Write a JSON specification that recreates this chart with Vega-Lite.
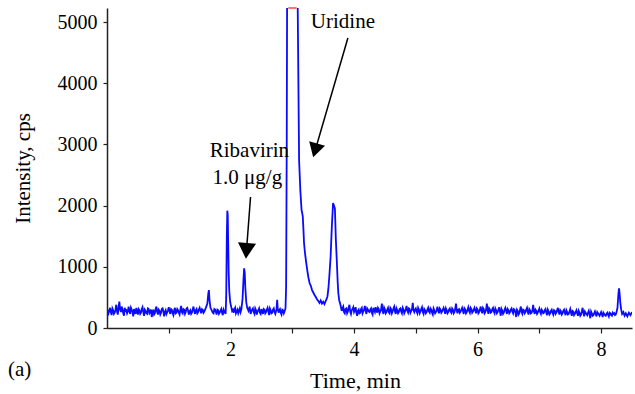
{
"$schema":"https://vega.github.io/schema/vega-lite/v6.json",
"width":525,"height":320,"autosize":"none",
"padding":{"left":107,"top":8,"right":3,"bottom":66},
"config":{"view":{"stroke":null},"font":"Liberation Serif"},
"title":{"text":"(a)","orient":"bottom","anchor":"start","frame":"group","fontSize":21,"font":"Liberation Serif","fontWeight":"normal","color":"black","dx":-99,"offset":-15,"baseline":"alphabetic"},
"datasets":{
"trace":[
{"t":0.01,"i":300},{"t":0.025,"i":240},{"t":0.05,"i":330},{"t":0.075,"i":210},{"t":0.1,"i":290},{"t":0.125,"i":250},{"t":0.15,"i":380},{"t":0.175,"i":220},{"t":0.2,"i":430},{"t":0.225,"i":260},{"t":0.25,"i":310},{"t":0.275,"i":200},{"t":0.3,"i":280},{"t":0.325,"i":240},{"t":0.35,"i":350},{"t":0.375,"i":230},{"t":0.4,"i":300},{"t":0.425,"i":190},{"t":0.45,"i":270},{"t":0.475,"i":330},{"t":0.5,"i":220},{"t":0.525,"i":290},{"t":0.55,"i":250},{"t":0.575,"i":340},{"t":0.6,"i":200},{"t":0.625,"i":280},{"t":0.65,"i":230},{"t":0.675,"i":310},{"t":0.7,"i":260},{"t":0.725,"i":180},{"t":0.75,"i":300},{"t":0.775,"i":240},{"t":0.8,"i":350},{"t":0.825,"i":220},{"t":0.85,"i":280},{"t":0.875,"i":250},{"t":0.9,"i":320},{"t":0.925,"i":190},{"t":0.95,"i":290},{"t":0.975,"i":260},{"t":1.0,"i":340},{"t":1.025,"i":230},{"t":1.05,"i":300},{"t":1.075,"i":210},{"t":1.1,"i":330},{"t":1.125,"i":250},{"t":1.15,"i":290},{"t":1.175,"i":220},{"t":1.2,"i":360},{"t":1.225,"i":240},{"t":1.25,"i":300},{"t":1.275,"i":260},{"t":1.3,"i":330},{"t":1.325,"i":220},{"t":1.35,"i":290},{"t":1.375,"i":250},{"t":1.4,"i":350},{"t":1.425,"i":230},{"t":1.45,"i":310},{"t":1.475,"i":260},{"t":1.5,"i":330},{"t":1.525,"i":240},{"t":1.55,"i":300},{"t":1.575,"i":270},
{"t":1.6,"i":330},{"t":1.625,"i":400},{"t":1.64,"i":560},{"t":1.65,"i":620},{"t":1.66,"i":450},{"t":1.675,"i":330},{"t":1.7,"i":280},{"t":1.725,"i":240},{"t":1.75,"i":300},{"t":1.775,"i":220},{"t":1.8,"i":290},{"t":1.825,"i":250},{"t":1.85,"i":310},{"t":1.875,"i":210},{"t":1.9,"i":270},{"t":1.92,"i":230},{"t":1.93,"i":500},{"t":1.94,"i":1500},{"t":1.948,"i":1917},{"t":1.955,"i":1850},{"t":1.962,"i":1400},{"t":1.97,"i":900},{"t":1.98,"i":600},{"t":1.995,"i":420},{"t":2.01,"i":350},{"t":2.025,"i":280},{"t":2.05,"i":250},{"t":2.075,"i":330},{"t":2.1,"i":270},{"t":2.125,"i":240},{"t":2.15,"i":320},{"t":2.175,"i":300},{"t":2.195,"i":480},{"t":2.21,"i":800},{"t":2.22,"i":975},{"t":2.23,"i":900},{"t":2.24,"i":650},{"t":2.255,"i":420},{"t":2.27,"i":330},{"t":2.29,"i":280},{"t":2.31,"i":350},{"t":2.325,"i":230},{"t":2.35,"i":300},{"t":2.375,"i":260},{"t":2.4,"i":320},{"t":2.425,"i":220},{"t":2.45,"i":290},{"t":2.475,"i":250},{"t":2.5,"i":310},{"t":2.525,"i":230},{"t":2.55,"i":300},{"t":2.575,"i":260},{"t":2.6,"i":330},{"t":2.625,"i":210},{"t":2.65,"i":290},{"t":2.675,"i":250},{"t":2.7,"i":320},{"t":2.725,"i":230},{"t":2.745,"i":300},{"t":2.755,"i":460},{"t":2.765,"i":300},{"t":2.78,"i":250},{"t":2.8,"i":310},{"t":2.825,"i":220},{"t":2.85,"i":290},{"t":2.87,"i":260},{"t":2.89,"i":320},{"t":2.9,"i":670},{"t":2.91,"i":3000},{"t":2.92,"i":7000},{"t":2.95,"i":9000},{"t":3.0,"i":9500},{"t":3.05,"i":9000},{"t":3.07,"i":7000},{"t":3.09,"i":5000},{"t":3.11,"i":2745},{"t":3.13,"i":2250},{"t":3.15,"i":1928},{"t":3.16,"i":1880},{"t":3.17,"i":1820},{"t":3.18,"i":1620},{"t":3.19,"i":1389},{"t":3.205,"i":1230},{"t":3.22,"i":1111},{"t":3.24,"i":960},{"t":3.26,"i":830},{"t":3.28,"i":735},{"t":3.3,"i":690},{"t":3.32,"i":620},{"t":3.34,"i":580},{"t":3.36,"i":540},{"t":3.38,"i":507},{"t":3.4,"i":470},{"t":3.42,"i":440},{"t":3.44,"i":410},{"t":3.46,"i":450},{"t":3.48,"i":400},{"t":3.5,"i":430},{"t":3.52,"i":390},{"t":3.54,"i":440},{"t":3.555,"i":470},{"t":3.57,"i":520},{"t":3.585,"i":650},{"t":3.6,"i":850},{"t":3.62,"i":1160},{"t":3.64,"i":1650},{"t":3.66,"i":2042},{"t":3.675,"i":2000},{"t":3.69,"i":1950},{"t":3.705,"i":1450},{"t":3.72,"i":1111},{"t":3.735,"i":750},{"t":3.745,"i":572},{"t":3.76,"i":450},{"t":3.775,"i":400},{"t":3.79,"i":330},
{"t":3.8,"i":280},{"t":3.825,"i":350},{"t":3.85,"i":240},{"t":3.875,"i":320},{"t":3.9,"i":270},{"t":3.925,"i":380},{"t":3.95,"i":230},{"t":3.975,"i":310},{"t":4.0,"i":260},{"t":4.025,"i":340},{"t":4.05,"i":200},{"t":4.075,"i":300},{"t":4.1,"i":250},{"t":4.125,"i":330},{"t":4.15,"i":270},{"t":4.175,"i":360},{"t":4.2,"i":230},{"t":4.225,"i":300},{"t":4.25,"i":260},{"t":4.275,"i":320},{"t":4.3,"i":220},{"t":4.325,"i":290},{"t":4.35,"i":340},{"t":4.375,"i":250},{"t":4.4,"i":310},{"t":4.425,"i":270},{"t":4.45,"i":400},{"t":4.475,"i":230},{"t":4.5,"i":300},{"t":4.525,"i":260},{"t":4.55,"i":330},{"t":4.575,"i":240},{"t":4.6,"i":310},{"t":4.625,"i":270},{"t":4.65,"i":350},{"t":4.675,"i":230},{"t":4.7,"i":290},{"t":4.725,"i":260},{"t":4.75,"i":320},{"t":4.775,"i":240},{"t":4.8,"i":300},{"t":4.825,"i":270},{"t":4.85,"i":360},{"t":4.875,"i":250},{"t":4.9,"i":310},{"t":4.925,"i":280},{"t":4.95,"i":410},{"t":4.975,"i":260},{"t":5.0,"i":320},{"t":5.025,"i":240},{"t":5.05,"i":300},{"t":5.075,"i":270},{"t":5.1,"i":340},{"t":5.125,"i":230},{"t":5.15,"i":290},{"t":5.175,"i":260},{"t":5.2,"i":330},{"t":5.225,"i":250},{"t":5.25,"i":300},{"t":5.275,"i":220},{"t":5.3,"i":290},{"t":5.325,"i":260},{"t":5.35,"i":350},{"t":5.375,"i":240},{"t":5.4,"i":300},{"t":5.425,"i":270},{"t":5.45,"i":330},{"t":5.475,"i":230},{"t":5.5,"i":290},{"t":5.525,"i":260},{"t":5.55,"i":320},{"t":5.575,"i":250},{"t":5.6,"i":300},{"t":5.625,"i":260},{"t":5.65,"i":400},{"t":5.675,"i":240},{"t":5.7,"i":310},{"t":5.725,"i":270},{"t":5.75,"i":330},{"t":5.775,"i":230},{"t":5.8,"i":300},{"t":5.825,"i":260},{"t":5.85,"i":340},{"t":5.875,"i":250},{"t":5.9,"i":310},{"t":5.925,"i":270},{"t":5.95,"i":330},{"t":5.975,"i":240},{"t":6.0,"i":300},{"t":6.025,"i":260},{"t":6.05,"i":350},{"t":6.075,"i":240},{"t":6.1,"i":310},{"t":6.125,"i":260},{"t":6.15,"i":400},{"t":6.175,"i":230},{"t":6.2,"i":300},{"t":6.225,"i":260},{"t":6.25,"i":330},{"t":6.275,"i":240},{"t":6.3,"i":290},{"t":6.325,"i":260},{"t":6.35,"i":340},{"t":6.375,"i":200},{"t":6.4,"i":280},{"t":6.425,"i":250},{"t":6.45,"i":330},{"t":6.475,"i":230},{"t":6.5,"i":290},{"t":6.525,"i":260},{"t":6.55,"i":320},{"t":6.575,"i":240},{"t":6.6,"i":300},{"t":6.625,"i":180},{"t":6.65,"i":280},{"t":6.675,"i":240},{"t":6.7,"i":350},{"t":6.725,"i":230},{"t":6.75,"i":290},{"t":6.775,"i":260},{"t":6.8,"i":330},{"t":6.825,"i":220},{"t":6.85,"i":290},{"t":6.875,"i":250},{"t":6.9,"i":380},{"t":6.925,"i":230},{"t":6.95,"i":280},{"t":6.975,"i":250},{"t":7.0,"i":320},{"t":7.025,"i":230},{"t":7.05,"i":280},{"t":7.075,"i":250},{"t":7.1,"i":310},{"t":7.125,"i":210},{"t":7.15,"i":270},{"t":7.175,"i":240},{"t":7.2,"i":300},{"t":7.225,"i":220},{"t":7.25,"i":280},{"t":7.275,"i":250},{"t":7.3,"i":330},{"t":7.325,"i":220},{"t":7.35,"i":270},{"t":7.375,"i":240},{"t":7.4,"i":300},{"t":7.425,"i":210},{"t":7.45,"i":260},{"t":7.475,"i":230},{"t":7.5,"i":310},{"t":7.525,"i":200},{"t":7.55,"i":270},{"t":7.575,"i":230},{"t":7.6,"i":290},{"t":7.625,"i":200},{"t":7.65,"i":250},{"t":7.675,"i":220},{"t":7.7,"i":330},{"t":7.725,"i":190},{"t":7.75,"i":250},{"t":7.775,"i":210},{"t":7.8,"i":280},{"t":7.825,"i":160},{"t":7.85,"i":240},{"t":7.875,"i":210},{"t":7.9,"i":270},{"t":7.925,"i":190},{"t":7.95,"i":240},{"t":7.975,"i":200},{"t":8.0,"i":260},{"t":8.025,"i":180},{"t":8.05,"i":230},{"t":8.075,"i":200},{"t":8.1,"i":250},{"t":8.125,"i":190},{"t":8.15,"i":240},{"t":8.175,"i":200},{"t":8.2,"i":230},{"t":8.225,"i":210},{"t":8.25,"i":260},{"t":8.265,"i":330},{"t":8.28,"i":560},{"t":8.29,"i":649},{"t":8.3,"i":560},{"t":8.31,"i":420},{"t":8.325,"i":300},{"t":8.34,"i":230},{"t":8.36,"i":260},{"t":8.38,"i":200},{"t":8.4,"i":240},{"t":8.425,"i":190},{"t":8.45,"i":250},{"t":8.475,"i":210},{"t":8.5,"i":260},
{"t":0.0375,"i":280},{"t":0.0625,"i":260},{"t":0.0875,"i":320},{"t":0.1125,"i":230},{"t":0.1375,"i":300},{"t":0.1625,"i":270},{"t":0.1875,"i":340},{"t":0.2125,"i":300},{"t":0.2375,"i":350},{"t":0.2625,"i":240},{"t":0.2875,"i":330},{"t":0.3125,"i":290},{"t":0.3375,"i":270},{"t":0.3625,"i":280},{"t":0.3875,"i":330},{"t":0.4125,"i":260},{"t":0.4375,"i":310},{"t":0.4625,"i":230},{"t":0.4875,"i":260},{"t":0.5125,"i":310},{"t":0.5375,"i":230},{"t":0.5625,"i":310},{"t":0.5875,"i":260},{"t":0.6125,"i":300},{"t":0.6375,"i":240},{"t":0.6625,"i":320},{"t":0.6875,"i":240},{"t":0.7125,"i":300},{"t":0.7375,"i":260},{"t":0.7625,"i":220},{"t":0.7875,"i":310},{"t":0.8125,"i":260},{"t":0.8375,"i":300},{"t":0.8625,"i":220},{"t":0.8875,"i":310},{"t":0.9125,"i":270},{"t":0.9375,"i":260},{"t":0.9625,"i":230},{"t":0.9875,"i":290},{"t":1.0125,"i":270},{"t":1.0375,"i":310},{"t":1.0625,"i":240},{"t":1.0875,"i":290},{"t":1.1125,"i":240},{"t":1.1375,"i":310},{"t":1.1625,"i":250},{"t":1.1875,"i":300},{"t":1.2125,"i":260},{"t":1.2375,"i":310},{"t":1.2625,"i":230},{"t":1.2875,"i":320},{"t":1.3125,"i":280},{"t":1.3375,"i":270},{"t":1.3625,"i":230},{"t":1.3875,"i":300},{"t":1.4125,"i":280},{"t":1.4375,"i":290},{"t":1.4625,"i":240},{"t":1.4875,"i":300},{"t":1.5125,"i":280},{"t":1.5375,"i":310},{"t":1.5625,"i":250},{"t":1.5875,"i":300},
{"t":1.7125,"i":250},{"t":1.7375,"i":310},{"t":1.7625,"i":260},{"t":1.7875,"i":300},{"t":1.8125,"i":230},{"t":1.8375,"i":280},{"t":1.8625,"i":250},{"t":1.8875,"i":300},{"t":2.0375,"i":300},{"t":2.0625,"i":300},{"t":2.0875,"i":240},{"t":2.1125,"i":300},{"t":2.1375,"i":280},{"t":2.1625,"i":260},
{"t":2.3375,"i":270},{"t":2.3625,"i":320},{"t":2.3875,"i":230},{"t":2.4125,"i":290},{"t":2.4375,"i":270},{"t":2.4625,"i":320},{"t":2.4875,"i":230},{"t":2.5125,"i":270},{"t":2.5375,"i":310},{"t":2.5625,"i":240},{"t":2.5875,"i":300},{"t":2.6125,"i":270},{"t":2.6375,"i":320},{"t":2.6625,"i":240},{"t":2.6875,"i":300},{"t":2.7125,"i":260},{"t":2.7375,"i":280},{"t":2.7875,"i":290},{"t":2.8125,"i":250},{"t":2.8375,"i":300},{"t":2.8625,"i":240},
{"t":3.8125,"i":320},{"t":3.8375,"i":260},{"t":3.8625,"i":310},{"t":3.8875,"i":240},{"t":3.9125,"i":330},{"t":3.9375,"i":270},{"t":3.9625,"i":290},{"t":3.9875,"i":340},{"t":4.0125,"i":290},{"t":4.0375,"i":250},{"t":4.0625,"i":280},{"t":4.0875,"i":240},{"t":4.1125,"i":310},{"t":4.1375,"i":240},{"t":4.1625,"i":300},{"t":4.1875,"i":280},{"t":4.2125,"i":320},{"t":4.2375,"i":270},{"t":4.2625,"i":300},{"t":4.2875,"i":250},{"t":4.3125,"i":330},{"t":4.3375,"i":260},{"t":4.3625,"i":290},{"t":4.3875,"i":330},{"t":4.4125,"i":240},{"t":4.4375,"i":300},{"t":4.4625,"i":280},{"t":4.4875,"i":330},{"t":4.5125,"i":240},{"t":4.5375,"i":300},{"t":4.5625,"i":260},{"t":4.5875,"i":330},{"t":4.6125,"i":240},{"t":4.6375,"i":320},{"t":4.6625,"i":270},{"t":4.6875,"i":320},{"t":4.7125,"i":240},{"t":4.7375,"i":310},{"t":4.7625,"i":270},{"t":4.7875,"i":330},{"t":4.8125,"i":240},{"t":4.8375,"i":310},{"t":4.8625,"i":280},{"t":4.8875,"i":320},{"t":4.9125,"i":250},{"t":4.9375,"i":300},{"t":4.9625,"i":290},{"t":4.9875,"i":300},{"t":5.0125,"i":270},{"t":5.0375,"i":330},{"t":5.0625,"i":240},{"t":5.0875,"i":310},{"t":5.1125,"i":260},{"t":5.1375,"i":310},{"t":5.1625,"i":240},{"t":5.1875,"i":300},{"t":5.2125,"i":270},{"t":5.2375,"i":320},{"t":5.2625,"i":250},{"t":5.2875,"i":320},{"t":5.3125,"i":240},{"t":5.3375,"i":290},{"t":5.3625,"i":280},{"t":5.3875,"i":320},{"t":5.4125,"i":250},{"t":5.4375,"i":300},{"t":5.4625,"i":290},{"t":5.4875,"i":320},{"t":5.5125,"i":240},{"t":5.5375,"i":300},{"t":5.5625,"i":270},{"t":5.5875,"i":320},{"t":5.6125,"i":240},{"t":5.6375,"i":310},{"t":5.6625,"i":290},{"t":5.6875,"i":300},{"t":5.7125,"i":250},{"t":5.7375,"i":300},{"t":5.7625,"i":280},{"t":5.7875,"i":320},{"t":5.8125,"i":240},{"t":5.8375,"i":300},{"t":5.8625,"i":280},{"t":5.8875,"i":330},{"t":5.9125,"i":250},{"t":5.9375,"i":300},{"t":5.9625,"i":280},{"t":5.9875,"i":320},{"t":6.0125,"i":240},{"t":6.0375,"i":300},{"t":6.0625,"i":280},{"t":6.0875,"i":330},{"t":6.1125,"i":240},{"t":6.1375,"i":300},{"t":6.1625,"i":290},{"t":6.1875,"i":320},{"t":6.2125,"i":250},{"t":6.2375,"i":310},{"t":6.2625,"i":270},{"t":6.2875,"i":320},{"t":6.3125,"i":240},{"t":6.3375,"i":300},{"t":6.3625,"i":270},{"t":6.3875,"i":310},{"t":6.4125,"i":230},{"t":6.4375,"i":300},{"t":6.4625,"i":280},{"t":6.4875,"i":310},{"t":6.5125,"i":240},{"t":6.5375,"i":300},{"t":6.5625,"i":270},{"t":6.5875,"i":310},{"t":6.6125,"i":250},{"t":6.6375,"i":300},{"t":6.6625,"i":220},{"t":6.6875,"i":300},{"t":6.7125,"i":260},{"t":6.7375,"i":300},{"t":6.7625,"i":240},{"t":6.7875,"i":300},{"t":6.8125,"i":260},{"t":6.8375,"i":310},{"t":6.8625,"i":240},{"t":6.8875,"i":290},{"t":6.9125,"i":270},{"t":6.9375,"i":300},{"t":6.9625,"i":230},{"t":6.9875,"i":290},{"t":7.0125,"i":260},{"t":7.0375,"i":300},{"t":7.0625,"i":240},{"t":7.0875,"i":290},{"t":7.1125,"i":250},{"t":7.1375,"i":300},{"t":7.1625,"i":220},{"t":7.1875,"i":280},{"t":7.2125,"i":250},{"t":7.2375,"i":290},{"t":7.2625,"i":230},{"t":7.2875,"i":290},{"t":7.3125,"i":260},{"t":7.3375,"i":290},{"t":7.3625,"i":220},{"t":7.3875,"i":280},{"t":7.4125,"i":250},{"t":7.4375,"i":290},{"t":7.4625,"i":220},{"t":7.4875,"i":270},{"t":7.5125,"i":250},{"t":7.5375,"i":280},{"t":7.5625,"i":210},{"t":7.5875,"i":260},{"t":7.6125,"i":240},{"t":7.6375,"i":280},{"t":7.6625,"i":200},{"t":7.6875,"i":270},{"t":7.7125,"i":250},{"t":7.7375,"i":270},{"t":7.7625,"i":230},{"t":7.7875,"i":250},{"t":7.8125,"i":220},{"t":7.8375,"i":270},{"t":7.8625,"i":200},{"t":7.8875,"i":240},{"t":7.9125,"i":230},{"t":7.9375,"i":260},{"t":7.9625,"i":220},{"t":7.9875,"i":230},{"t":8.0125,"i":220},{"t":8.0375,"i":250},{"t":8.0625,"i":210},{"t":8.0875,"i":230},{"t":8.1125,"i":220},{"t":8.1375,"i":250},{"t":8.1625,"i":210},{"t":8.1875,"i":250},{"t":8.2125,"i":240},{"t":8.2375,"i":220}
],
"arrows":[{"name":"Uridine","t1":3.90,"v1":4739,"t2":3.37,"v2":2902},{"name":"Ribavirin","t1":2.324,"v1":2141,"t2":2.258,"v2":1261}],
"heads":[{"name":"Uridine","t":3.37,"v":2902},{"name":"Ribavirin","t":2.258,"v":1261}],
"labels":[{"text":"Uridine","t":3.82,"v":4897},{"text":"Ribavirin","t":2.306,"v":2789},{"text":"1.0 μg/g","t":2.273,"v":2348}],
"clipmark":[{"t1":2.935,"t2":3.07,"v":5230}]
},
"layer":[
{"data":{"name":"trace"},
 "mark":{"type":"line","color":"#0a0aff","strokeWidth":1.8,"clip":true},
 "encoding":{
  "x":{"field":"t","type":"quantitative","scale":{"domain":[0,8.5],"nice":false,"zero":false},
   "axis":{"title":"Time, min","values":[1,2,3,4,5,6,7,8],"format":"d","labelExpr":"datum.value % 2 == 0 ? datum.label : ''","grid":false,"domainColor":"#222","domainWidth":1.5,"tickColor":"#222","tickSize":5,"tickWidth":1.2,"labelFontSize":20,"labelColor":"black","labelPadding":6,"labelFlush":false,"titleFontSize":22,"titleFontWeight":"normal","titleColor":"black","titleX":248,"titleY":59,"titleBaseline":"alphabetic"}},
  "y":{"field":"i","type":"quantitative","scale":{"domain":[0,5230],"nice":false,"zero":true},
   "axis":{"title":"Intensity, cps","values":[0,500,1000,1500,2000,2500,3000,3500,4000,4500,5000],"format":"d","labelExpr":"datum.value % 1000 == 0 ? datum.label : ''","labelOverlap":false,"grid":false,"domainColor":"#222","domainWidth":1.5,"tickColor":"#222","tickSize":4,"tickWidth":1.2,"labelFontSize":20,"labelColor":"black","labelPadding":6,"titleFontSize":21,"titleFontWeight":"normal","titleColor":"black","titlePadding":24}}
 }},
{"data":{"name":"clipmark"},"mark":{"type":"rule","color":"#ff7070","strokeWidth":2},
 "encoding":{"x":{"field":"t1","type":"quantitative"},"x2":{"field":"t2"},"y":{"field":"v","type":"quantitative"}}},
{"data":{"name":"arrows"},"mark":{"type":"rule","color":"black","strokeWidth":1.5},
 "encoding":{"x":{"field":"t1","type":"quantitative"},"y":{"field":"v1","type":"quantitative"},"x2":{"field":"t2"},"y2":{"field":"v2"}}},
{"data":{"name":"heads"},"transform":[{"filter":"datum.name == 'Uridine'"}],
 "mark":{"type":"point","shape":"triangle-down","filled":true,"color":"black","opacity":1,"size":270,"angle":16},
 "encoding":{"x":{"field":"t","type":"quantitative"},"y":{"field":"v","type":"quantitative"}}},
{"data":{"name":"heads"},"transform":[{"filter":"datum.name == 'Ribavirin'"}],
 "mark":{"type":"point","shape":"triangle-down","filled":true,"color":"black","opacity":1,"size":330,"angle":4},
 "encoding":{"x":{"field":"t","type":"quantitative"},"y":{"field":"v","type":"quantitative"}}},
{"data":{"name":"labels"},"mark":{"type":"text","font":"Liberation Serif","fontSize":21,"color":"black","align":"center","baseline":"alphabetic"},
 "encoding":{"x":{"field":"t","type":"quantitative"},"y":{"field":"v","type":"quantitative"},"text":{"field":"text"}}}
]
}
